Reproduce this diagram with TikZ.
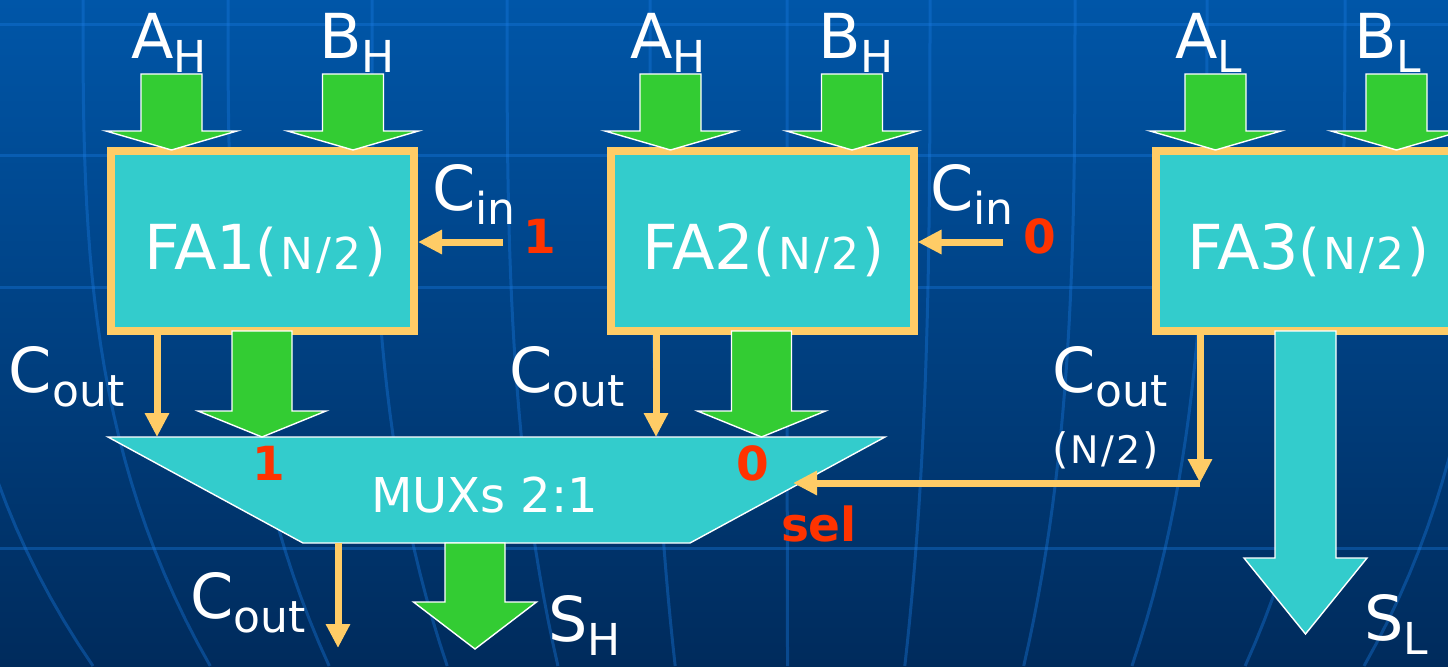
\documentclass[tikz,border=0pt]{standalone}
\usepackage{fontspec}
\setmainfont{DejaVu Sans}
\usetikzlibrary{arrows.meta}
\definecolor{bgtop}{HTML}{0056A8}
\definecolor{bgbot}{HTML}{002B5C}
\definecolor{gridc}{HTML}{1A7AE0}
\definecolor{cyanf}{HTML}{33CCCC}
\definecolor{orng}{HTML}{FFCC66}
\definecolor{grn}{HTML}{33CC33}
\definecolor{redl}{HTML}{FF3300}
\newcommand{\sublab}[2]{#1\raisebox{-7pt}{\fontsize{22}{26}\selectfont #2}}
\newcommand{\halfn}[2]{{\fontsize{#1}{#1}\selectfont(}\kern.05em{\fontsize{#2}{#2}\selectfont N\kern.06em/\kern.06em2}\kern.05em{\fontsize{#1}{#1}\selectfont)}}
\newcommand{\blkarrow}[7]{\path[blk, fill=#1] ({#2-#6},#3) -- ({#2+#6},#3) -- ({#2+#6},#4) -- ({#2+#7},#4) -- (#2,#5) -- ({#2-#7},#4) -- ({#2-#6},#4) -- cycle;}
\begin{document}
\begin{tikzpicture}[x=0.5pt,y=-0.5pt,
  lab/.style={text=white, inner sep=0pt, outer sep=0pt, anchor=base west, font=\fontsize{31}{36}\selectfont},
  redb/.style={text=redl, inner sep=0pt, outer sep=0pt, anchor=base, font=\fontsize{23.5}{28}\selectfont\bfseries},
  fabox/.style={draw=orng, line width=4pt, fill=cyanf, minimum width=151.5pt, minimum height=90pt, inner sep=0pt},
  wire/.style={draw=orng, line width=3.5pt, -{Triangle[length=12pt,width=11.5pt]}},
  blk/.style={draw=white, line width=0.7pt},
  gridl/.style={draw=gridc, line width=1.5pt, opacity=0.38}]
\useasboundingbox (0,0) rectangle (1448,666);
\clip (0,0) rectangle (1448,666);
% background
\shade[top color=bgtop, bottom color=bgbot] (0,0) rectangle (1448,666);
\foreach \y in {24,155,287,548} \draw[gridl] (0,\y) -- (1448,\y);
\foreach \xo in {-60,83,228,372,507,650,787,930,1075,1207,1345,1490}
  \draw[gridl] plot[domain=0:666, samples=30, variable=\t] ({790+(\xo-790)*(1-0.18*(\t/666)^3)}, \t);
% adder boxes
\node[fabox] (fa1) at (262.5,241) {};
\node[fabox] (fa2) at (762,241) {};
\node[fabox] (fa3) at (1307,241) {};
% multiplexer
\coordinate (mtl) at (108,437);
\coordinate (mtr) at (885,437);
\coordinate (mbr) at (690,543);
\coordinate (mbl) at (303,543);
\path[blk, fill=cyanf] (mtl) -- (mtr) -- (mbr) -- (mbl) -- cycle;
% block arrows
\blkarrow{grn}{171.5}{74}{131}{150}{30.5}{65.5}
\blkarrow{grn}{353}{74}{131}{150}{30.5}{65.5}
\blkarrow{grn}{670.5}{74}{131}{150}{30.5}{65.5}
\blkarrow{grn}{852}{74}{131}{150}{30.5}{65.5}
\blkarrow{grn}{1215.5}{74}{131}{150}{30.5}{65.5}
\blkarrow{grn}{1396.5}{74}{131}{150}{30.5}{65.5}
\blkarrow{grn}{262}{331}{411}{437}{30}{64}
\blkarrow{grn}{761.5}{331}{411}{437}{30}{64}
\blkarrow{grn}{475}{543}{602}{649}{30}{61.5}
\blkarrow{cyanf}{1305.5}{331}{558}{634}{30.5}{61.5}
% wires
\coordinate (cin1) at (503,242);
\coordinate (cin2) at (1003,242);
\draw[wire] (cin1) -- (cin1 -| fa1.east);
\draw[wire] (cin2) -- (cin2 -| fa2.east);
\coordinate (m1) at (157,437);
\coordinate (m2) at (656,437);
\draw[wire] (m1 |- fa1.south) -- (m1);
\draw[wire] (m2 |- fa2.south) -- (m2);
\coordinate (selc) at (1200,483);
\coordinate (muxsel) at (793,483);
\draw[wire] (selc |- fa3.south) -- (selc);
\draw[wire] (selc) -- (muxsel);
\coordinate (mb) at (338,543);
\coordinate (coutend) at (338,648);
\draw[wire] (mb) -- (coutend);
% labels
\node[lab] (ah1) at (131,58) {\sublab{A}{H}};
\node[lab] (bh1) at (319,58) {\sublab{B}{H}};
\node[lab] (ah2) at (630,58) {\sublab{A}{H}};
\node[lab] (bh2) at (818,58) {\sublab{B}{H}};
\node[lab] (al3) at (1175,58) {\sublab{A}{L}};
\node[lab] (bl3) at (1354,58) {\sublab{B}{L}};
\node[lab] (fa1t) at (144,269) {FA1\halfn{28}{22}};
\node[lab] (fa2t) at (642,269) {FA2\halfn{28}{22}};
\node[lab] (fa3t) at (1187,269) {FA3\halfn{28}{22}};
\node[lab] (cin1t) at (432,210) {\sublab{C}{in}};
\node[lab] (cin2t) at (930,210) {\sublab{C}{in}};
\node[redb] (one1) at (540,253) {1};
\node[redb] (zero1) at (1040,253) {0};
\node[lab] (cout1) at (9,392) {\sublab{C}{out}};
\node[lab] (cout2) at (509,392) {\sublab{C}{out}};
\node[lab] (cout3) at (1052,392) {\sublab{C}{out}};
\node[lab, font=\fontsize{20}{22}\selectfont] (cout3n) at (1052,463) {\halfn{21}{19}};
\node[redb] (mux1) at (269,480) {1};
\node[redb] (mux0) at (752.5,480) {0};
\node[lab, font=\fontsize{24}{28}\selectfont] (muxt) at (371,512) {MUXs 2:1};
\node[redb, anchor=base west] (sel) at (781,541) {sel};
\node[lab] (coutb) at (190,618) {\sublab{C}{out}};
\node[lab] (sh) at (548,641) {\sublab{S}{H}};
\node[lab] (sl) at (1364,640) {\sublab{S}{L}};
\end{tikzpicture}
\end{document}
